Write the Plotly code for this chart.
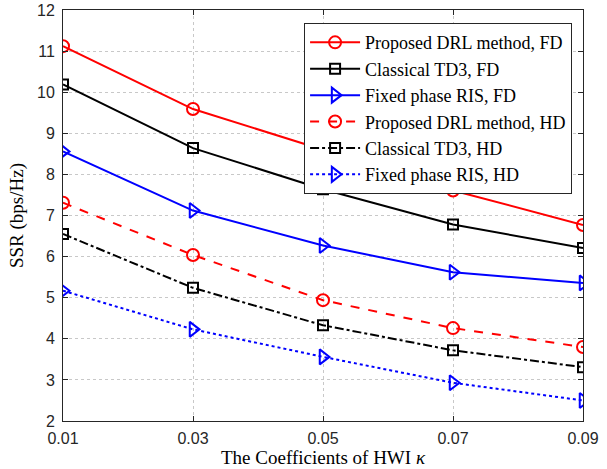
import plotly.graph_objects as go

kappa = [0.01, 0.03, 0.05, 0.07, 0.09]
drl_fd = [11.12, 9.59, 8.60, 7.61, 6.77]
td3_fd = [10.19, 8.64, 7.64, 6.78, 6.21]
fixed_fd = [8.56, 7.12, 6.27, 5.62, 5.36]
drl_hd = [7.31, 6.04, 4.94, 4.26, 3.80]
td3_hd = [6.55, 5.24, 4.33, 3.72, 3.31]
fixed_hd = [5.17, 4.23, 3.56, 2.93, 2.50]

names = ["Proposed DRL method, FD", "Classical TD3, FD", "Fixed phase RIS, FD",
         "Proposed DRL method, HD", "Classical TD3, HD", "Fixed phase RIS, HD"]
series = [drl_fd, td3_fd, fixed_fd, drl_hd, td3_hd, fixed_hd]
colors = ["#ff0000", "#000000", "#0000ff", "#ff0000", "#000000", "#0000ff"]
dashes = ["solid", "solid", "solid", "dash", "dashdot", "dot"]
symbols = ["circle-open", "square-open", "triangle-right-open",
           "circle-open", "square-open", "triangle-right-open"]
sizes = [12, 10, 13, 12, 10, 13]

fig = go.Figure()
for n, s, c, d, m, sz in zip(names, series, colors, dashes, symbols, sizes):
    fig.add_trace(go.Scatter(
        x=kappa, y=s, name=n, mode="lines+markers",
        line=dict(color=c, width=2, dash=d),
        marker=dict(symbol=m, size=sz, color=c, line=dict(width=2, color=c)),
    ))

serif = "Liberation Serif, Times New Roman, serif"
sans = "Liberation Sans, Arial, sans-serif"

fig.update_layout(
    width=607, height=469,
    margin=dict(l=63, r=24, t=10, b=48),
    paper_bgcolor="white", plot_bgcolor="white",
    font=dict(family=sans, size=16, color="#262626"),
    showlegend=True,
    legend=dict(
        x=0.979, y=0.968, xanchor="right", yanchor="top",
        bgcolor="white", bordercolor="#262626", borderwidth=1,
        font=dict(family=serif, size=18, color="#000000"),
        tracegroupgap=0, itemwidth=50,
    ),
    xaxis=dict(
        range=[0.01, 0.09], tickvals=kappa, ticktext=["0.01", "0.03", "0.05", "0.07", "0.09"],
        showgrid=True, gridcolor="#c8c8c8", griddash="dot", gridwidth=1,
        showline=True, linecolor="#262626", linewidth=1, mirror="allticks",
        ticks="inside", ticklen=5, tickcolor="#262626", zeroline=False,
        ticklabelstandoff=3, automargin=False,
        title=dict(text="The Coefficients of HWI <i>κ</i>", font=dict(family=serif, size=19, color="#000000"), standoff=0),
    ),
    yaxis=dict(
        range=[2, 12], tickvals=list(range(2, 13)),
        showgrid=True, gridcolor="#c8c8c8", griddash="dot", gridwidth=1,
        showline=True, linecolor="#262626", linewidth=1, mirror="allticks",
        ticks="inside", ticklen=5, tickcolor="#262626", zeroline=False,
        ticklabelstandoff=4, automargin=False,
        title=dict(text="SSR (bps/Hz)", font=dict(family=serif, size=19, color="#000000"), standoff=8),
    ),
)

fig.write_html("out.html")
